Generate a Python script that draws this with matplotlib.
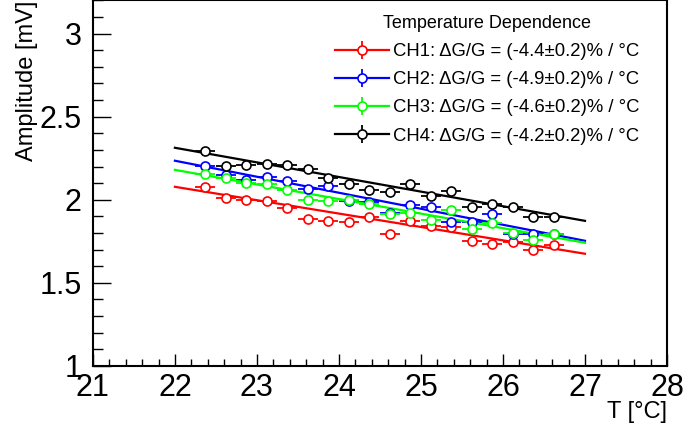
import matplotlib
matplotlib.use('Agg')
import matplotlib.pyplot as plt
import numpy as np

# temperature points (same for all channels)
temp = [22.37, 22.62, 22.87, 23.12, 23.37, 23.62, 23.87, 24.12, 24.37,
        24.62, 24.87, 25.12, 25.37, 25.62, 25.87, 26.12, 26.37, 26.62]
temp_err = 0.12
amp_err = 0.01

ch1 = [2.074, 2.008, 1.996, 1.994, 1.950, 1.884, 1.875, 1.864, 1.899,
       1.795, 1.871, 1.843, 1.839, 1.749, 1.735, 1.743, 1.699, 1.729]
ch2 = [2.205, 2.151, 2.120, 2.140, 2.114, 2.066, 2.080, 1.994, 1.984,
       1.923, 1.966, 1.954, 1.869, 1.867, 1.916, 1.795, 1.795, 1.791]
ch3 = [2.155, 2.131, 2.101, 2.095, 2.060, 1.996, 1.990, 2.000, 1.974,
       1.916, 1.923, 1.880, 1.936, 1.823, 1.860, 1.799, 1.759, 1.791]
ch4 = [2.291, 2.205, 2.211, 2.215, 2.209, 2.187, 2.131, 2.096, 2.060,
       2.046, 2.096, 2.020, 2.054, 1.956, 1.976, 1.956, 1.899, 1.899]

# linear fits, value at start and end of fit range
fit_t = [22, 27]
fit1 = [2.078, 1.675]
fit2 = [2.235, 1.753]
fit3 = [2.180, 1.741]
fit4 = [2.313, 1.873]

labels = ["CH1: \u0394G/G = (-4.4\u00b10.2)% / \u00b0C",
          "CH2: \u0394G/G = (-4.9\u00b10.2)% / \u00b0C",
          "CH3: \u0394G/G = (-4.6\u00b10.2)% / \u00b0C",
          "CH4: \u0394G/G = (-4.2\u00b10.2)% / \u00b0C"]
colors = ["#ff0000", "#0000ff", "#00ff00", "#000000"]

plt.rcParams['font.family'] = ['Liberation Sans', 'DejaVu Sans']

fig = plt.figure(figsize=(6.83, 4.34), dpi=100)
ax = fig.add_axes([0.136, 0.157, 0.8406, 0.842])

handles = []
for vals, fit, col in zip([ch1, ch2, ch3, ch4], [fit1, fit2, fit3, fit4], colors):
    eb = ax.errorbar(temp, vals, xerr=temp_err, yerr=amp_err, fmt='o',
                     mfc='white', mec=col, color=col, ms=6.5, mew=1.2,
                     elinewidth=1.3, capsize=0)
    ln, = ax.plot(fit_t, fit, color=col, lw=1.6)
    handles.append((ln, eb))

ax.set_xlim(21, 28)
ax.set_ylim(1, 3.2)
ax.set_xticks(np.arange(21, 28.1, 1))
ax.set_yticks([1, 1.5, 2, 2.5, 3])
ax.set_yticklabels(["1", "1.5", "2", "2.5", "3"])
ax.set_xticks(np.arange(21, 28.01, 0.2), minor=True)
ax.set_yticks(np.arange(1, 3.21, 0.1), minor=True)
ax.tick_params(which='both', direction='in', top=False, right=False, width=1)
ax.tick_params(axis='y', which='major', length=13, pad=8, labelsize=22)
ax.tick_params(axis='y', which='minor', length=7)
ax.tick_params(axis='x', which='major', length=9, pad=5, labelsize=22)
ax.tick_params(axis='x', which='minor', length=5)
for s in ax.spines.values():
    s.set_linewidth(1.5)

ax.set_xlabel("T [\u00b0C]", fontsize=17, loc='right')
ax.xaxis.set_label_coords(1.0, -0.097)
ax.set_ylabel("Amplitude [mV]", fontsize=17, loc='top')
ax.yaxis.set_label_coords(-0.095, 1.0)

leg = ax.legend(handles, labels, title="Temperature Dependence",
                loc='upper left', bbox_to_anchor=(0.40, 0.995), frameon=False,
                fontsize=13.3, title_fontsize=13, handlelength=2.9,
                labelspacing=0.6, handletextpad=0.2, borderpad=0.2)

fig.savefig("out.png", dpi=100)
